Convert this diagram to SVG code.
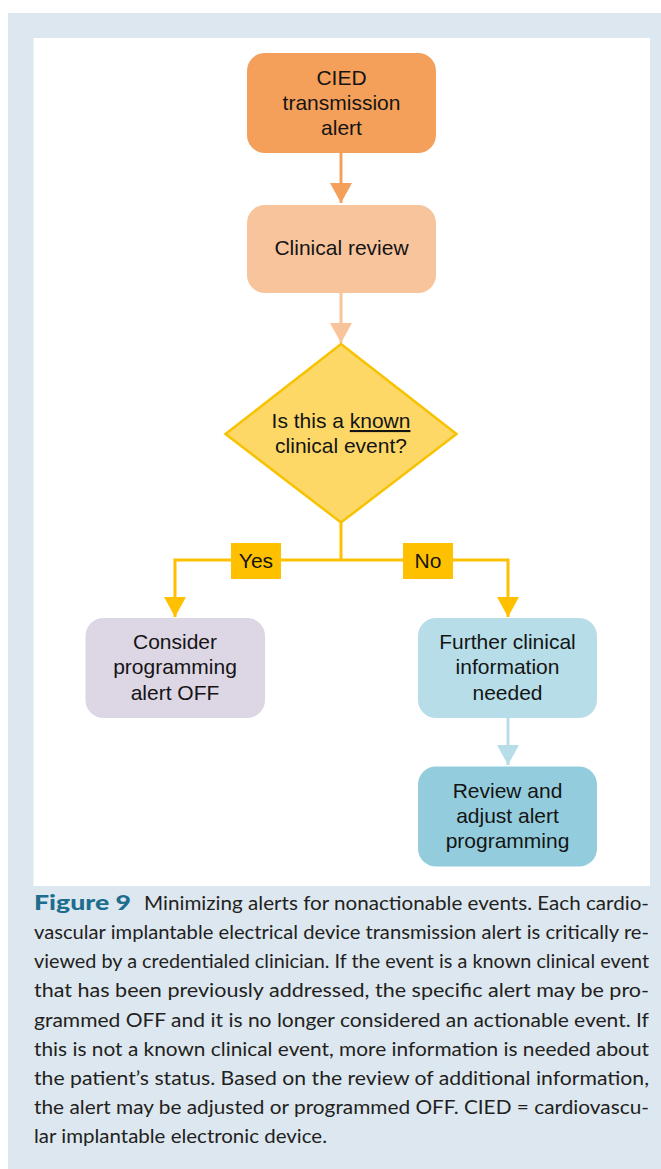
<svg xmlns="http://www.w3.org/2000/svg" width="661" height="1169" viewBox="0 0 661 1169">
  <style>
    .lbl { font-family: "Liberation Sans", Arial, sans-serif; font-size: 21px; fill: #141414; text-anchor: middle; }
    .cap { font-family: Lato, "Noto Sans", sans-serif; font-size: 18.5px; fill: #231f20; }
    .figno { font-family: Lato, "Noto Sans", sans-serif; font-size: 21px; font-weight: 900; fill: #1d6e8e; }
    .conn { fill: none; stroke-width: 3; }
  </style>
  <defs>
    <marker id="ahOrange" viewBox="0 0 20 22" refX="20" refY="11" markerWidth="20" markerHeight="22" markerUnits="userSpaceOnUse" orient="auto">
      <path d="M0,0 L20,11 L0,22 z" fill="#F4A05A"/>
    </marker>
    <marker id="ahPeach" viewBox="0 0 20 22" refX="20" refY="11" markerWidth="20" markerHeight="22" markerUnits="userSpaceOnUse" orient="auto">
      <path d="M0,0 L20,11 L0,22 z" fill="#F8C49C"/>
    </marker>
    <marker id="ahGold" viewBox="0 0 20 22" refX="20" refY="11" markerWidth="20" markerHeight="22" markerUnits="userSpaceOnUse" orient="auto">
      <path d="M0,0 L20,11 L0,22 z" fill="#FFC000"/>
    </marker>
    <marker id="ahBlue" viewBox="0 0 20 22" refX="20" refY="11" markerWidth="20" markerHeight="22" markerUnits="userSpaceOnUse" orient="auto">
      <path d="M0,0 L20,11 L0,22 z" fill="#B7DEE8"/>
    </marker>
  </defs>

  <!-- background panel -->
  <rect x="8" y="13" width="653" height="1156" fill="#DDE7F0"/>
  <rect x="33.5" y="38" width="616.5" height="848" fill="#FFFFFF"/>

  <!-- connectors -->
  <g id="connectors">
    <path class="conn" d="M341,153 L341,203" stroke="#F4A05A" marker-end="url(#ahOrange)"/>
    <path class="conn" d="M341,293 L341,343" stroke="#F8C49C" marker-end="url(#ahPeach)"/>
    <path class="conn" d="M341,523 L341,560" stroke="#FFC000"/>
    <path class="conn" d="M341,560 H175 V617" stroke="#FFC000" marker-end="url(#ahGold)"/>
    <path class="conn" d="M341,560 H508 V617" stroke="#FFC000" marker-end="url(#ahGold)"/>
    <path class="conn" d="M508,718 L508,765" stroke="#B7DEE8" marker-end="url(#ahBlue)"/>
    <g id="label-yes">
      <rect x="231" y="543" width="50" height="36" fill="#FFC000"/>
      <text class="lbl" x="256" y="568">Yes</text>
    </g>
    <g id="label-no">
      <rect x="403" y="543" width="50" height="36" fill="#FFC000"/>
      <text class="lbl" x="428" y="568">No</text>
    </g>
  </g>

  <!-- nodes -->
  <g id="node-cied">
    <rect x="247" y="53" width="189" height="100" rx="18" fill="#F4A05A"/>
    <text class="lbl" x="341.5" y="85">CIED</text>
    <text class="lbl" x="341.5" y="110">transmission</text>
    <text class="lbl" x="341.5" y="135">alert</text>
  </g>
  <g id="node-review">
    <rect x="247" y="205" width="189" height="88" rx="18" fill="#F8C49C"/>
    <text class="lbl" x="341.5" y="255">Clinical review</text>
  </g>
  <g id="node-decision">
    <polygon points="341,344 456.5,434 341,522.5 225.5,434" fill="#FDD867" stroke="#F7C200" stroke-width="2.5"/>
    <text class="lbl" x="341" y="428">Is this a <tspan text-decoration="underline">known</tspan></text>
    <text class="lbl" x="341" y="453">clinical event?</text>
  </g>
  <g id="node-off">
    <rect x="85.5" y="618" width="179.5" height="100" rx="18" fill="#DDD6E5"/>
    <text class="lbl" x="175" y="649">Consider</text>
    <text class="lbl" x="175" y="674">programming</text>
    <text class="lbl" x="175" y="700">alert OFF</text>
  </g>
  <g id="node-further">
    <rect x="418" y="618" width="179" height="100" rx="18" fill="#B7DEE8"/>
    <text class="lbl" x="507.5" y="649">Further clinical</text>
    <text class="lbl" x="507.5" y="674">information</text>
    <text class="lbl" x="507.5" y="700">needed</text>
  </g>
  <g id="node-adjust">
    <rect x="418" y="766.5" width="179" height="100" rx="18" fill="#93CDDD"/>
    <text class="lbl" x="507.5" y="798">Review and</text>
    <text class="lbl" x="507.5" y="823">adjust alert</text>
    <text class="lbl" x="507.5" y="848">programming</text>
  </g>

  <!-- caption -->
  <g id="caption">
    <text class="figno" x="34" y="910" textLength="97" lengthAdjust="spacingAndGlyphs">Figure 9</text>
    <text class="cap" x="144" y="910" textLength="505" lengthAdjust="spacingAndGlyphs">Minimizing alerts for nonactionable events. Each cardio-</text>
    <text class="cap" x="34" y="939" textLength="615" lengthAdjust="spacingAndGlyphs">vascular implantable electrical device transmission alert is critically re-</text>
    <text class="cap" x="34" y="968" textLength="615" lengthAdjust="spacingAndGlyphs">viewed by a credentialed clinician. If the event is a known clinical event</text>
    <text class="cap" x="34" y="997" textLength="615" lengthAdjust="spacingAndGlyphs">that has been previously addressed, the specific alert may be pro-</text>
    <text class="cap" x="34" y="1027" textLength="615" lengthAdjust="spacingAndGlyphs">grammed OFF and it is no longer considered an actionable event. If</text>
    <text class="cap" x="34" y="1056" textLength="615" lengthAdjust="spacingAndGlyphs">this is not a known clinical event, more information is needed about</text>
    <text class="cap" x="34" y="1085" textLength="615" lengthAdjust="spacingAndGlyphs">the patient’s status. Based on the review of additional information,</text>
    <text class="cap" x="34" y="1114" textLength="615" lengthAdjust="spacingAndGlyphs">the alert may be adjusted or programmed OFF. CIED = cardiovascu-</text>
    <text class="cap" x="34" y="1143" textLength="293" lengthAdjust="spacingAndGlyphs">lar implantable electronic device.</text>
  </g>
</svg>
